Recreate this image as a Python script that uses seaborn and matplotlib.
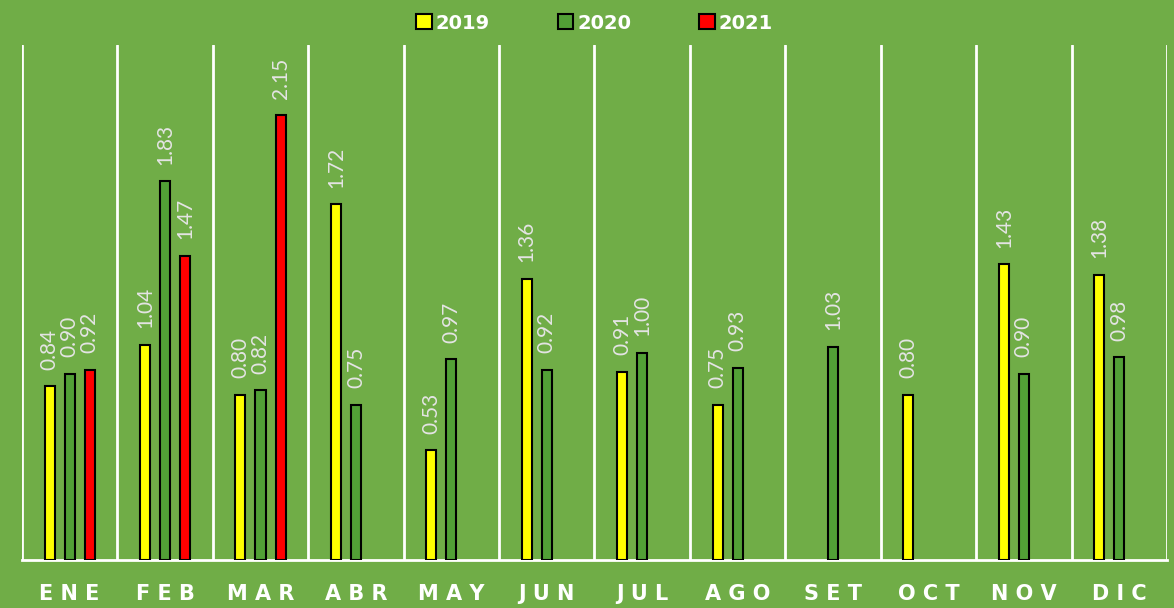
import numpy as np
import pandas as pd
import matplotlib
matplotlib.use("Agg")
import matplotlib.pyplot as plt
import seaborn as sns

# data
meses = ["ENE", "FEB", "MAR", "ABR", "MAY", "JUN", "JUL", "AGO", "SET", "OCT", "NOV", "DIC"]
anios = ["2019", "2020", "2021"]
v2019 = [0.84, 1.04, 0.80, 1.72, 0.53, 1.36, 0.91, 0.75, np.nan, 0.80, 1.43, 1.38]
v2020 = [0.90, 1.83, 0.82, 0.75, 0.97, 0.92, 1.00, 0.93, 1.03, np.nan, 0.90, 0.98]
v2021 = [0.92, 1.47, 2.15] + [np.nan] * 9

df = pd.DataFrame({"mes": meses * 3,
                   "anio": np.repeat(anios, len(meses)),
                   "valor": v2019 + v2020 + v2021})

bg = "#70AD47"
colores = {"2019": "#FFFF00", "2020": "#52A036", "2021": "#FF0000"}

sns.set_style("white")
plt.rcParams["font.family"] = ["DejaVu Sans"]

fig = plt.figure(figsize=(11.74, 6.08), dpi=100, facecolor=bg)
ax = fig.add_axes([0.0187, 0.079, 0.9753, 0.847])
ax.set_facecolor(bg)

sns.barplot(data=df, x="mes", y="valor", hue="anio", order=meses, hue_order=anios,
            palette=colores, saturation=1, width=0.63, gap=0.5, dodge=True,
            edgecolor="black", linewidth=1.5, errorbar=None, ax=ax, zorder=3)

for c in ax.containers:
    ax.bar_label(c, fmt="%.2f", rotation=90, padding=12, color="#E4E4E4",
                 fontsize=15, family="Lato")

# white separators between months
for b in np.arange(-0.5, len(meses), 1):
    ax.axvline(b, color="white", lw=2, zorder=1)

ax.set_xlim(-0.5, len(meses) - 0.5)
ax.set_ylim(0, 2.49)
ax.set_yticks([])
ax.set_xlabel("")
ax.set_ylabel("")
for s in ["top", "left", "right"]:
    ax.spines[s].set_visible(False)
ax.spines["bottom"].set_color("white")
ax.spines["bottom"].set_linewidth(2)

ax.set_xticks(range(len(meses)))
ax.set_xticklabels([" ".join(m) for m in meses], color="white", fontsize=15,
                   fontweight="bold")
ax.tick_params(axis="x", length=0, pad=17)

leg = ax.legend(loc="upper center", bbox_to_anchor=(0.5, 1.095), ncol=3, frameon=False,
                fontsize=14, handlelength=0.8, handleheight=0.8, handletextpad=0.2,
                columnspacing=3.5)
for t in leg.get_texts():
    t.set_color("white")
    t.set_fontweight("bold")

fig.savefig("out.png", dpi=100, facecolor=bg)
